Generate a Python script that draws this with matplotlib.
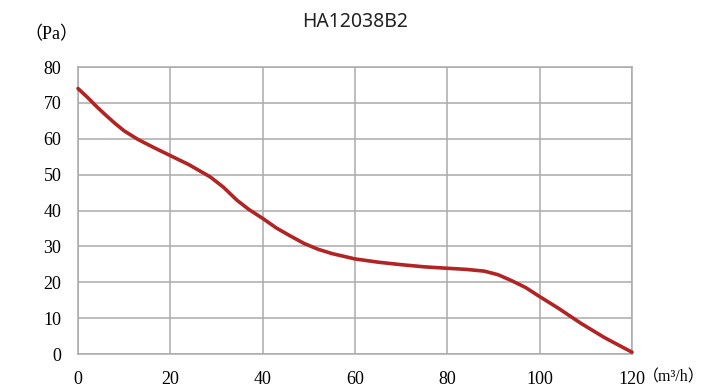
import numpy as np
import matplotlib
import matplotlib.pyplot as plt

matplotlib.use('agg')

# flow (m3/h) vs static pressure (Pa)
flow = [0, 2, 4, 6, 8, 10, 13, 16.5, 20, 24, 28.6, 31.5, 34.4, 37, 40, 43, 46,
        49, 52, 55, 60, 65, 70, 75, 80, 84, 88, 91, 94, 97, 100, 104, 109, 114, 120]
pressure = [74, 71.6, 69, 66.6, 64.3, 62.2, 59.8, 57.5, 55.3, 52.8, 49.4, 46.5, 42.9,
            40.3, 37.8, 35.1, 32.9, 30.8, 29.2, 28, 26.5, 25.6, 24.9, 24.3, 23.9,
            23.6, 23.1, 22.1, 20.4, 18.5, 16, 12.8, 8.5, 4.6, 0.5]

xticks = [0, 20, 40, 60, 80, 100, 120]
yticks = [0, 10, 20, 30, 40, 50, 60, 70, 80]
title = "HA12038B2"

fig = plt.figure(figsize=(7.06, 3.88), dpi=100)
ax = fig.add_axes([0.1105, 0.0876, 0.7847, 0.7397])

ax.plot(flow, pressure, c='#b22424', linewidth=2.6, solid_joinstyle='round',
        solid_capstyle='round', zorder=3, clip_on=False)

ax.set_xlim(0, 120)
ax.set_ylim(0, 80)
ax.set_xticks(xticks)
ax.set_yticks(yticks)
ax.grid(True, color='#ababab', linewidth=1.1)
for s in ax.spines.values():
    s.set_color('#ababab')
    s.set_linewidth(1.1)
ax.tick_params(length=0, labelsize=13, pad=12)
for lab in ax.get_xticklabels() + ax.get_yticklabels():
    lab.set_family('Liberation Serif')

fig.text(355/706, 1-22/388, title, ha='center', va='center',
         fontsize=14, family='Noto Sans', color='#222222')
fig.text(51/706, 1-35/388, "（Pa）", ha='center', va='center', fontsize=13,
         family=['Liberation Serif', 'Noto Sans CJK SC'])
ax.annotate("（m³/h）", xy=(120, 0), xytext=(8, -17), textcoords='offset points',
            ha='left', va='center', fontsize=11.5,
            family=['Liberation Serif', 'Noto Sans CJK SC'], annotation_clip=False)

fig.savefig('out.png', dpi=100)
